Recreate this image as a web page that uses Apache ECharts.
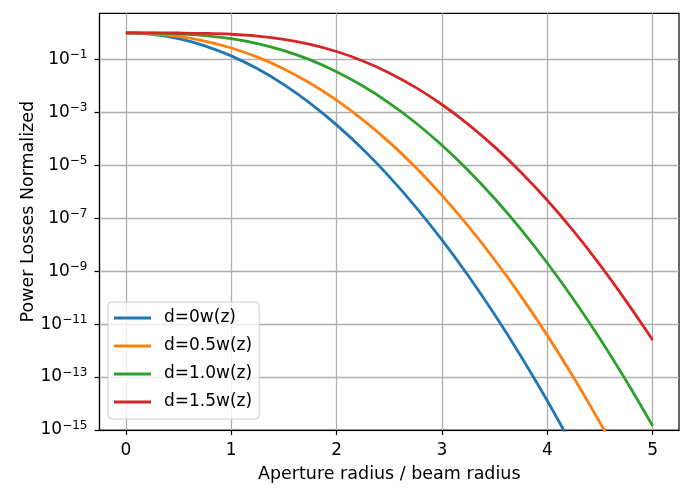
<!DOCTYPE html>
<html>
<head>
<meta charset="utf-8">
<script src="https://cdn.jsdelivr.net/npm/echarts@6/dist/echarts.min.js"></script>
<style>
    html, body {margin: 0; padding: 0; background: #fff;}
    #losses {width: 683px; height: 488px;}
</style>
</head>
<body>
<div id="losses"></div>
<script>
// aperture radius / beam radius
const radius = [0, 0.25, 0.5, 0.75, 1, 1.25, 1.5, 1.75, 2, 2.25, 2.5,
    2.75, 3, 3.25, 3.5, 3.75, 4, 4.25, 4.5, 4.75, 5];

// normalized power losses
const loss_d0 = [1, 0.8825, 0.6065, 0.3247, 0.1353, 0.04394, 0.01111, 2.19e-3, 3.35e-4, 4.0e-5, 3.73e-6,
    2.70e-7, 1.52e-8, 6.7e-10, 2.29e-11, 6.1e-13, 1.27e-14, 2.05e-16, null, null, null];
const loss_d05 = [1, 0.927, 0.733, 0.488, 0.269, 0.121, 0.0437, 0.0126, 2.89e-3, 5.2e-4, 7.5e-5,
    8.4e-6, 7.3e-7, 5.0e-8, 2.7e-9, 1.14e-10, 3.75e-12, 9.6e-14, 1.9e-15, 2.9e-17, null];
const loss_d10 = [1, 0.982, 0.918, 0.791, 0.6035, 0.394, 0.2136, 0.0953, 0.0341, 9.8e-3, 2.24e-3,
    4.04e-4, 5.7e-5, 6.4e-6, 5.56e-7, 3.8e-8, 2.03e-9, 8.5e-11, 2.8e-12, 7.1e-14, 1.43e-15];
const loss_d15 = [1, 0.998, 0.989, 0.959, 0.887, 0.754, 0.5675, 0.369, 0.198, 0.0868, 0.0308,
    8.73e-3, 1.97e-3, 3.52e-4, 4.95e-5, 5.48e-6, 4.77e-7, 3.25e-8, 1.735e-9, 7.25e-11, 2.5e-12];

const seriesNames = ['d=0w(z)', 'd=0.5w(z)', 'd=1.0w(z)', 'd=1.5w(z)'];
const seriesColors = ['#1f77b4', '#ff7f0e', '#2ca02c', '#d62728'];

const xTicks = [0, 1, 2, 3, 4, 5];
const yTickExps = [-15, -13, -11, -9, -7, -5, -3, -1];

const font = 'DejaVu Sans';

function toPoints(vals) {
    // log10 of the losses, the y axis is decades
    return radius.map(function (r, i) {
        return vals[i] == null ? [r, '-'] : [r, Math.log10(vals[i])];
    });
}

let chart = echarts.init(document.getElementById('losses'));

let option = {
    animation: false,
    grid: {
        left: 99.5,
        right: 4,
        top: 13.3,
        bottom: 58,
        show: true,
        borderColor: '#000',
        borderWidth: 1.2
    },
    legend: {
        orient: 'vertical',
        left: 108,
        top: 302,
        padding: [6, 7, 7, 6],
        icon: 'rect',
        itemWidth: 37,
        itemHeight: 2.8,
        itemGap: 8,
        backgroundColor: 'rgba(255,255,255,0.8)',
        borderColor: '#cccccc',
        borderWidth: 1,
        borderRadius: 4,
        data: seriesNames,
        textStyle: {
            fontFamily: font,
            fontSize: 17,
            lineHeight: 20,
            color: '#000',
            padding: [0, 0, 0, 8]
        }
    },
    xAxis: {
        type: 'value',
        min: -0.25,
        max: 5.25,
        name: 'Aperture radius / beam radius',
        nameLocation: 'middle',
        nameGap: 35,
        nameTextStyle: {fontFamily: font, fontSize: 17.5, color: '#000'},
        axisLine: {onZero: false, lineStyle: {color: '#000', width: 1.2}},
        axisTick: {customValues: xTicks, length: 5, lineStyle: {color: '#000', width: 1.2}},
        axisLabel: {
            customValues: xTicks,
            margin: 12,
            fontFamily: font,
            fontSize: 17,
            color: '#000'
        },
        splitLine: {show: true, lineStyle: {color: '#b0b0b0', width: 1.3}}
    },
    yAxis: {
        type: 'value',
        min: -15,
        max: 0.74,
        name: 'Power Losses Normalized',
        nameLocation: 'middle',
        nameGap: 62,
        nameMoveOverlap: false,
        nameTextStyle: {fontFamily: font, fontSize: 17.5, color: '#000', padding: [0, 0, 0, 20]},
        axisLine: {onZero: false, lineStyle: {color: '#000', width: 1.2}},
        axisTick: {customValues: yTickExps, length: 5, lineStyle: {color: '#000', width: 1.2}},
        axisLabel: {
            customValues: yTickExps,
            margin: 12,
            formatter: function (v) {
                return '{b|10}{s|\u2212' + Math.abs(v) + '}';
            },
            rich: {
                b: {fontFamily: font, fontSize: 17, lineHeight: 20, color: '#000'},
                s: {fontFamily: font, fontSize: 12, lineHeight: 11, color: '#000', verticalAlign: 'top'}
            }
        },
        splitLine: {show: true, lineStyle: {color: '#b0b0b0', width: 1.3}}
    },
    series: [loss_d0, loss_d05, loss_d10, loss_d15].map(function (vals, i) {
        return {
            name: seriesNames[i],
            type: 'line',
            data: toPoints(vals),
            symbol: 'none',
            smooth: 0.4,
            clip: true,
            color: seriesColors[i],
            lineStyle: {width: 2.8, color: seriesColors[i]}
        };
    })
};

chart.setOption(option);
</script>
</body>
</html>
